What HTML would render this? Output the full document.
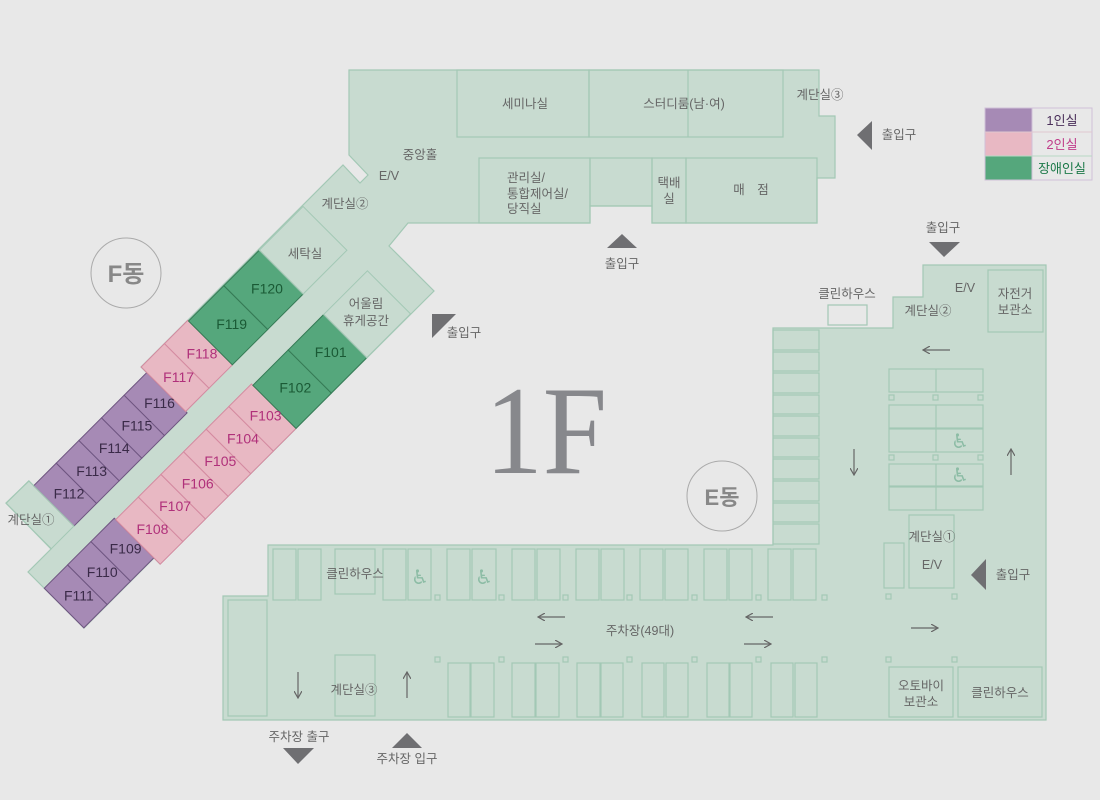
<!DOCTYPE html>
<html><head><meta charset="utf-8"><style>
html,body{margin:0;padding:0;background:#e8e8e8;}
svg{display:block;font-family:"Liberation Sans","Noto Sans CJK KR",sans-serif;}
.l{fill:#666;font-size:12.5px;text-anchor:middle;}
.b{fill:none;stroke:#a3c8b5;stroke-width:1.2;}
.r{font-size:14px;text-anchor:middle;}
</style></head><body>
<svg width="1100" height="800" viewBox="0 0 1100 800">
<rect width="1100" height="800" fill="#e8e8e8"/>
<defs>
<marker id="ah" markerWidth="8" markerHeight="8" refX="7" refY="4" orient="auto" markerUnits="userSpaceOnUse"><path d="M0,0 L7,4 L0,8" fill="none" stroke="#666" stroke-width="1.2"/></marker>
</defs>

<polygon points="28,572 84,628 154,558 160,564 434,291 389,246 408,223 590,223 590,206 652,206 652,223 817,223 817,178 835,178 835,116 819,116 819,70 349,70 349,155 368,175 360,183 343,165 141,367 147,373 34,486 29,481 6,503 51,549" fill="#c8dbd0" stroke="#a3c8b5" stroke-width="1.2"/>

<rect x="457" y="70" width="132" height="67" class="b"/>
<rect x="589" y="70" width="194" height="67" class="b"/>
<line x1="688" y1="70" x2="688" y2="137" class="b"/>
<rect x="479" y="158" width="111" height="65" class="b"/>
<rect x="590" y="158" width="62" height="48" class="b"/>
<rect x="652" y="158" width="34" height="65" class="b"/>
<rect x="686" y="158" width="131" height="65" class="b"/>
<text x="525" y="108" class="l">세미나실</text>
<text x="684" y="108" class="l">스터디룸(남·여)</text>
<text x="820" y="99" class="l">계단실③</text>
<text x="420" y="159" class="l">중앙홀</text>
<text x="389" y="180" class="l">E/V</text>
<text x="345" y="208" class="l">계단실②</text>
<text x="507" y="182" class="l" style="text-anchor:start">관리실/</text>
<text x="507" y="198" class="l" style="text-anchor:start">통합제어실/</text>
<text x="507" y="213" class="l" style="text-anchor:start">당직실</text>
<text x="669" y="187" class="l">택배</text>
<text x="669" y="203" class="l">실</text>
<text x="751" y="194" class="l">매　점</text>

<g transform="translate(28,572) rotate(-45)">
  <g stroke-width="1">
  <rect x="0" y="23" width="33" height="56" fill="#a68ab5" stroke="#6e5580"/>
  <rect x="33" y="23" width="33" height="56" fill="#a68ab5" stroke="#6e5580"/>
  <rect x="66" y="23" width="33" height="56" fill="#a68ab5" stroke="#6e5580"/>
  <rect x="99" y="25" width="32" height="63" fill="#e8b8c3" stroke="#d48aa0"/>
  <rect x="131" y="25" width="32" height="63" fill="#e8b8c3" stroke="#d48aa0"/>
  <rect x="163" y="25" width="32" height="63" fill="#e8b8c3" stroke="#d48aa0"/>
  <rect x="195" y="25" width="32" height="63" fill="#e8b8c3" stroke="#d48aa0"/>
  <rect x="227" y="25" width="32" height="63" fill="#e8b8c3" stroke="#d48aa0"/>
  <rect x="259" y="25" width="32" height="63" fill="#e8b8c3" stroke="#d48aa0"/>
  <rect x="291" y="27" width="50" height="61" fill="#55a77c" stroke="#357a55"/>
  <rect x="341" y="27" width="50" height="61" fill="#55a77c" stroke="#357a55"/>
  <rect x="391" y="27" width="62" height="61" fill="none" stroke="#a3c8b5"/>
  <rect x="65" y="-57" width="32" height="57" fill="#a68ab5" stroke="#6e5580"/>
  <rect x="97" y="-57" width="32" height="57" fill="#a68ab5" stroke="#6e5580"/>
  <rect x="129" y="-57" width="32" height="57" fill="#a68ab5" stroke="#6e5580"/>
  <rect x="161" y="-57" width="32" height="57" fill="#a68ab5" stroke="#6e5580"/>
  <rect x="193" y="-57" width="32" height="57" fill="#a68ab5" stroke="#6e5580"/>
  <rect x="225" y="-65" width="33" height="63" fill="#e8b8c3" stroke="#d48aa0"/>
  <rect x="258" y="-65" width="33" height="63" fill="#e8b8c3" stroke="#d48aa0"/>
  <rect x="291" y="-64" width="50" height="62" fill="#55a77c" stroke="#357a55"/>
  <rect x="341" y="-64" width="50" height="62" fill="#55a77c" stroke="#357a55"/>
  <rect x="391" y="-64" width="62" height="62" fill="none" stroke="#a3c8b5"/>
  <rect x="33" y="-64" width="32" height="64" fill="none" stroke="#a3c8b5"/>
  </g>
  <g class="r">
  <text transform="translate(16,56) rotate(45)" fill="#3a2a48">F111</text>
  <text transform="translate(49,56) rotate(45)" fill="#3a2a48">F110</text>
  <text transform="translate(82,56) rotate(45)" fill="#3a2a48">F109</text>
  <text transform="translate(115,61) rotate(45)" fill="#b0307a">F108</text>
  <text transform="translate(147,61) rotate(45)" fill="#b0307a">F107</text>
  <text transform="translate(179,61) rotate(45)" fill="#b0307a">F106</text>
  <text transform="translate(211,61) rotate(45)" fill="#b0307a">F105</text>
  <text transform="translate(243,61) rotate(45)" fill="#b0307a">F104</text>
  <text transform="translate(275,61) rotate(45)" fill="#b0307a">F103</text>
  <text transform="translate(316,62) rotate(45)" fill="#1a5a35">F102</text>
  <text transform="translate(366,62) rotate(45)" fill="#1a5a35">F101</text>
  <text transform="translate(81,-23) rotate(45)" fill="#3a2a48">F112</text>
  <text transform="translate(113,-23) rotate(45)" fill="#3a2a48">F113</text>
  <text transform="translate(145,-23) rotate(45)" fill="#3a2a48">F114</text>
  <text transform="translate(177,-23) rotate(45)" fill="#3a2a48">F115</text>
  <text transform="translate(209,-23) rotate(45)" fill="#3a2a48">F116</text>
  <text transform="translate(241,-28) rotate(45)" fill="#b0307a">F117</text>
  <text transform="translate(274,-28) rotate(45)" fill="#b0307a">F118</text>
  <text transform="translate(316,-28) rotate(45)" fill="#1a5a35">F119</text>
  <text transform="translate(366,-28) rotate(45)" fill="#1a5a35">F120</text>
  </g>
</g>
<text x="305" y="258" class="l">세탁실</text>
<text x="366" y="308" class="l">어울림</text>
<text x="366" y="325" class="l">휴게공간</text>
<text x="31" y="524" class="l">계단실①</text>

<circle cx="126" cy="273" r="35" fill="none" stroke="#aaa" stroke-width="1"/>
<text x="126" y="282" text-anchor="middle" fill="#888" font-size="24" font-weight="bold">F동</text>
<circle cx="722" cy="496" r="35" fill="none" stroke="#aaa" stroke-width="1"/>
<text x="722" y="505" text-anchor="middle" fill="#888" font-size="22" font-weight="bold">E동</text>

<text x="485" y="473" font-family="Liberation Serif, serif" font-size="126" fill="#87888c" textLength="122" lengthAdjust="spacingAndGlyphs">1F</text>

<polygon points="923,265 1046,265 1046,720 223,720 223,596 268,596 268,545 773,545 773,328 893,328 893,297 923,297" fill="#c8dbd0" stroke="#a3c8b5" stroke-width="1.2"/>
<g class="b">
<rect x="988" y="270" width="55" height="62"/>
<rect x="828" y="305" width="39" height="20"/>
<rect x="773" y="330" width="46" height="20"/>
<rect x="773" y="352" width="46" height="19"/>
<rect x="773" y="373" width="46" height="20"/>
<rect x="773" y="395" width="46" height="19"/>
<rect x="773" y="416" width="46" height="20"/>
<rect x="773" y="438" width="46" height="19"/>
<rect x="773" y="459" width="46" height="20"/>
<rect x="773" y="481" width="46" height="20"/>
<rect x="773" y="503" width="46" height="19"/>
<rect x="773" y="524" width="46" height="20"/>
<rect x="889" y="369" width="94" height="23"/><line x1="936" y1="369" x2="936" y2="392"/>
<rect x="889" y="405" width="94" height="23"/><line x1="936" y1="405" x2="936" y2="428"/>
<rect x="889" y="429" width="94" height="23"/><line x1="936" y1="429" x2="936" y2="452"/>
<rect x="889" y="464" width="94" height="22"/><line x1="936" y1="464" x2="936" y2="486"/>
<rect x="889" y="487" width="94" height="23"/><line x1="936" y1="487" x2="936" y2="510"/>
<rect x="909" y="515" width="45" height="73"/>
<rect x="884" y="543" width="20" height="45"/>
<rect x="889" y="667" width="64" height="50"/>
<rect x="958" y="667" width="84" height="50"/>
<rect x="228" y="600" width="39" height="116"/>
<rect x="335" y="549" width="40" height="45"/>
<rect x="335" y="655" width="40" height="61"/>
<rect x="273" y="549" width="23" height="51"/><rect x="298" y="549" width="23" height="51"/>
<rect x="383" y="549" width="23" height="51"/><rect x="408" y="549" width="23" height="51"/>
<rect x="447" y="549" width="23" height="51"/><rect x="472" y="549" width="24" height="51"/>
<rect x="512" y="549" width="23" height="51"/><rect x="537" y="549" width="23" height="51"/>
<rect x="576" y="549" width="23" height="51"/><rect x="601" y="549" width="23" height="51"/>
<rect x="640" y="549" width="23" height="51"/><rect x="665" y="549" width="23" height="51"/>
<rect x="704" y="549" width="23" height="51"/><rect x="729" y="549" width="23" height="51"/>
<rect x="768" y="549" width="23" height="51"/><rect x="793" y="549" width="23" height="51"/>
<rect x="448" y="663" width="22" height="54"/><rect x="471" y="663" width="23" height="54"/>
<rect x="512" y="663" width="23" height="54"/><rect x="536" y="663" width="23" height="54"/>
<rect x="577" y="663" width="23" height="54"/><rect x="601" y="663" width="22" height="54"/>
<rect x="642" y="663" width="22" height="54"/><rect x="666" y="663" width="22" height="54"/>
<rect x="707" y="663" width="22" height="54"/><rect x="730" y="663" width="22" height="54"/>
<rect x="771" y="663" width="22" height="54"/><rect x="795" y="663" width="22" height="54"/>
<rect x="435" y="595" width="5" height="5"/><rect x="499" y="595" width="5" height="5"/><rect x="563" y="595" width="5" height="5"/><rect x="627" y="595" width="5" height="5"/><rect x="692" y="595" width="5" height="5"/><rect x="756" y="595" width="5" height="5"/><rect x="822" y="595" width="5" height="5"/><rect x="886" y="594" width="5" height="5"/><rect x="952" y="594" width="5" height="5"/>
<rect x="435" y="657" width="5" height="5"/><rect x="499" y="657" width="5" height="5"/><rect x="563" y="657" width="5" height="5"/><rect x="627" y="657" width="5" height="5"/><rect x="692" y="657" width="5" height="5"/><rect x="756" y="657" width="5" height="5"/><rect x="822" y="657" width="5" height="5"/><rect x="886" y="657" width="5" height="5"/><rect x="952" y="657" width="5" height="5"/>
<rect x="889" y="395" width="5" height="5"/><rect x="933" y="395" width="5" height="5"/><rect x="978" y="395" width="5" height="5"/>
<rect x="889" y="455" width="5" height="5"/><rect x="933" y="455" width="5" height="5"/><rect x="978" y="455" width="5" height="5"/>
</g>
<g fill="#8cbca5" font-size="20" font-family="DejaVu Sans, sans-serif" text-anchor="middle">
<text x="420" y="584">♿</text><text x="484" y="584">♿</text>
<text x="960" y="448">♿</text><text x="960" y="482">♿</text>
</g>
<text x="847" y="298" class="l">클린하우스</text>
<text x="965" y="292" class="l">E/V</text>
<text x="928" y="315" class="l">계단실②</text>
<text x="1015" y="298" class="l">자전거</text>
<text x="1015" y="314" class="l">보관소</text>
<text x="932" y="541" class="l">계단실①</text>
<text x="932" y="569" class="l">E/V</text>
<text x="355" y="578" class="l">클린하우스</text>
<text x="354" y="694" class="l">계단실③</text>
<text x="640" y="635" class="l">주차장(49대)</text>
<text x="921" y="690" class="l">오토바이</text>
<text x="921" y="706" class="l">보관소</text>
<text x="1000" y="697" class="l">클린하우스</text>

<g stroke="#666" stroke-width="1.2" marker-end="url(#ah)">
<line x1="950" y1="350" x2="923" y2="350"/>
<line x1="854" y1="449" x2="854" y2="475"/>
<line x1="1011" y1="475" x2="1011" y2="449"/>
<line x1="565" y1="617" x2="538" y2="617"/>
<line x1="773" y1="617" x2="746" y2="617"/>
<line x1="535" y1="644" x2="562" y2="644"/>
<line x1="744" y1="644" x2="771" y2="644"/>
<line x1="911" y1="628" x2="938" y2="628"/>
<line x1="298" y1="672" x2="298" y2="698"/>
<line x1="407" y1="698" x2="407" y2="672"/>
</g>

<g fill="#6f6f72">
<polygon points="607,248 637,248 622,234"/>
<polygon points="872,121 872,150 857,135"/>
<polygon points="929,242 960,242 944,257"/>
<polygon points="432,314 456,314 432,338"/>
<polygon points="986,559 986,590 971,575"/>
<polygon points="283,748 314,748 298,764"/>
<polygon points="392,748 422,748 407,733"/>
</g>
<text x="622" y="268" class="l">출입구</text>
<text x="899" y="139" class="l">출입구</text>
<text x="943" y="232" class="l">출입구</text>
<text x="464" y="337" class="l">출입구</text>
<text x="1013" y="579" class="l">출입구</text>
<text x="299" y="741" class="l">주차장 출구</text>
<text x="407" y="763" class="l">주차장 입구</text>

<rect x="985" y="108" width="47" height="24" fill="#a68ab5"/>
<rect x="985" y="132" width="47" height="24" fill="#e8b8c3"/>
<rect x="985" y="156" width="47" height="24" fill="#55a77c"/>
<rect x="985" y="108" width="107" height="72" fill="none" stroke="#cfc0d8"/>
<line x1="1032" y1="108" x2="1032" y2="180" stroke="#cfc0d8"/>
<line x1="985" y1="132" x2="1092" y2="132" stroke="#e0c8cf"/>
<line x1="985" y1="156" x2="1092" y2="156" stroke="#b8d8c5"/>
<text x="1062" y="125" font-size="13" text-anchor="middle" fill="#4a2f5a">1인실</text>
<text x="1062" y="149" font-size="13" text-anchor="middle" fill="#c03c8a">2인실</text>
<text x="1062" y="173" font-size="13" text-anchor="middle" fill="#1e7a4a">장애인실</text>
</svg>
</body></html>
